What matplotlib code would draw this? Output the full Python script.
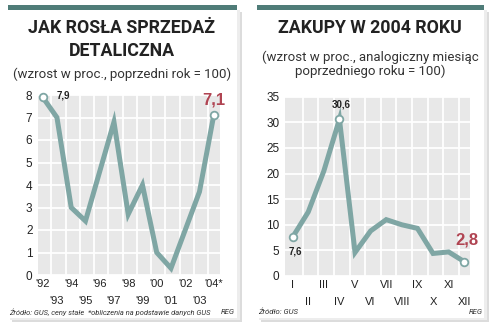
import matplotlib
matplotlib.use("Agg")
import matplotlib.pyplot as plt
from matplotlib import font_manager
from matplotlib.patches import Rectangle

names = {f.name for f in font_manager.fontManager.ttflist}
NARROW = "Liberation Sans Narrow" if "Liberation Sans Narrow" in names else "Roboto"
plt.rcParams['font.family'] = ["Liberation Sans", 'DejaVu Sans']

# ---------- data ----------
years = ["'92", "'93", "'94", "'95", "'96", "'97", "'98", "'99", "'00", "'01", "'02", "'03", "'04*"]
retail = [7.9, 7.0, 3.0, 2.4, 4.6, 6.8, 2.7, 4.0, 1.0, 0.3, 2.0, 3.7, 7.1]
left_yticks = [0, 1, 2, 3, 4, 5, 6, 7, 8]

months = ["I", "II", "III", "IV", "V", "VI", "VII", "VIII", "IX", "X", "XI", "XII"]
purchases = [7.6, 12.5, 20.5, 30.6, 4.6, 8.8, 11.0, 10.0, 9.3, 4.4, 4.7, 2.8]
right_yticks = [0, 5, 10, 15, 20, 25, 30, 35]

W, H = 500, 331
fig = plt.figure(figsize=(W / 100, H / 100), dpi=100)
fig.patch.set_facecolor("white")

LINE = "#7fa6a4"
BAR = "#4f7c78"
RED = "#b04452"
GRAYBG = "#e8e8e8"
TXT = "#222222"


def px_rect(x0, y0, x1, y1, z, **kw):
    fig.patches.append(Rectangle((x0 / W, 1 - y1 / H), (x1 - x0) / W, (y1 - y0) / H,
                                 transform=fig.transFigure, figure=fig, zorder=z, **kw))


def ftext(x, y, s, **kw):
    fig.text(x / W, 1 - y / H, s, **kw)


# panels: shadow, white, top bar
for (x0, x1) in [(8, 237), (257, 484)]:
    px_rect(x0 + 4, 12, x1 + 5, 322, -3, facecolor="#dcdcdc", edgecolor="none")
    px_rect(x0 + 2, 10, x1 + 3, 320, -2, facecolor="#ededed", edgecolor="none")
    px_rect(x0, 5, x1, 318, -1, facecolor="white", edgecolor="none")
    px_rect(x0, 5, x1, 9.5, 1, facecolor=BAR, edgecolor="none")


def make_axes(x0, x1, y0, y1):
    ax = fig.add_axes([x0 / W, 1 - y1 / H, (x1 - x0) / W, (y1 - y0) / H])
    ax.set_zorder(5)
    ax.set_facecolor(GRAYBG)
    for s in ax.spines.values():
        s.set_visible(False)
    ax.tick_params(which="both", length=0, labelsize=8, labelcolor=TXT)
    ax.tick_params(axis="x", which="major", pad=3)
    ax.tick_params(axis="x", which="minor", pad=15)
    ax.tick_params(axis="y", pad=4)
    return ax


def two_row_xticks(ax, labels):
    pos = list(range(len(labels)))
    ax.set_xticks(pos[0::2], labels[0::2], fontsize=8)
    ax.set_xticks(pos[1::2], labels[1::2], minor=True, fontsize=8)


# ---------- left chart ----------
axL = make_axes(38, 220, 95, 275)
xs = list(range(len(years)))
axL.set_xlim(-0.33, 12.44)
axL.set_ylim(0, 8)
for v in left_yticks:
    axL.axhline(v, color="white", lw=1.3, zorder=1)
for k in range(len(years) - 1):
    axL.axvline(k + 0.6, color="white", lw=1.3, zorder=1)
axL.plot(xs, retail, color=LINE, lw=3.6, solid_joinstyle="miter", zorder=3)
axL.plot([xs[0], xs[-1]], [retail[0], retail[-1]], "o", ms=5.5, mfc="white",
         mec=LINE, mew=1.3, zorder=4, clip_on=False)
axL.set_yticks(left_yticks)
axL.set_yticklabels([str(v) for v in left_yticks], fontsize=8.5)
two_row_xticks(axL, years)
axL.text(1.45, 8.0, "7,9", ha="center", va="center", fontsize=7,
         fontweight="bold", color=TXT)
axL.text(12.0, 7.77, "7,1", ha="center", va="center", fontsize=12,
         fontweight="bold", color=RED)

# ---------- right chart ----------
axR = make_axes(285, 470, 96.7, 276)
xm = list(range(len(months)))
axR.set_xlim(-0.49, 11.37)
axR.set_ylim(0, 35)
for v in right_yticks:
    axR.axhline(v, color="white", lw=1.3, zorder=1)
for k in range(len(months) - 1):
    axR.axvline(k + 0.65, color="white", lw=1.3, zorder=1)
axR.plot(xm, purchases, color=LINE, lw=3.6, solid_joinstyle="miter", zorder=3)
axR.plot([xm[0], xm[3], xm[-1]], [purchases[0], purchases[3], purchases[-1]], "o",
         ms=5.5, mfc="white", mec=LINE, mew=1.3, zorder=4, clip_on=False)
axR.set_yticks(right_yticks)
axR.set_yticklabels([str(v) for v in right_yticks], fontsize=8.5)
two_row_xticks(axR, months)
axR.text(3.1, 33.4, "30,6", ha="center", va="center", fontsize=7,
         fontweight="bold", color=TXT)
axR.text(0.2, 4.7, "7,6", ha="center", va="center", fontsize=7,
         fontweight="bold", color=TXT)
axR.text(11.2, 7.0, "2,8", ha="center", va="center", fontsize=12,
         fontweight="bold", color=RED)

# ---------- titles ----------
TF = [NARROW, "DejaVu Sans"]
ftext(122, 28, "JAK ROSŁA SPRZEDAŻ", ha="center", va="center", fontsize=12.8,
      fontweight="bold", color=TXT, family=TF)
ftext(122, 51, "DETALICZNA", ha="center", va="center", fontsize=12.8,
      fontweight="bold", color=TXT, family=TF)
ftext(122, 74, "(wzrost w proc., poprzedni rok = 100)", ha="center", va="center",
      fontsize=9.5, color="#333333", family=TF)

ftext(370, 28, "ZAKUPY W 2004 ROKU", ha="center", va="center", fontsize=12.8,
      fontweight="bold", color=TXT, family=TF)
ftext(370, 57, "(wzrost w proc., analogiczny miesiąc", ha="center", va="center",
      fontsize=9.5, color="#333333", family=TF)
ftext(370, 71, "poprzedniego roku = 100)", ha="center", va="center",
      fontsize=9.5, color="#333333", family=TF)

# ---------- footers ----------
ftext(9, 312, "Źródło: GUS, ceny stałe  *obliczenia na podstawie danych GUS",
      ha="left", va="center", fontsize=5.4, style="italic", color="#333333", family=TF)
ftext(235, 312, "REG", ha="right", va="center", fontsize=5.6, style="italic",
      color="#333333", family=TF)
ftext(258, 312, "Źródło: GUS", ha="left", va="center", fontsize=5.6, style="italic",
      color="#333333", family=TF)
ftext(483, 312, "REG", ha="right", va="center", fontsize=5.6, style="italic",
      color="#333333", family=TF)

fig.savefig("out.png", dpi=100, facecolor="white")
